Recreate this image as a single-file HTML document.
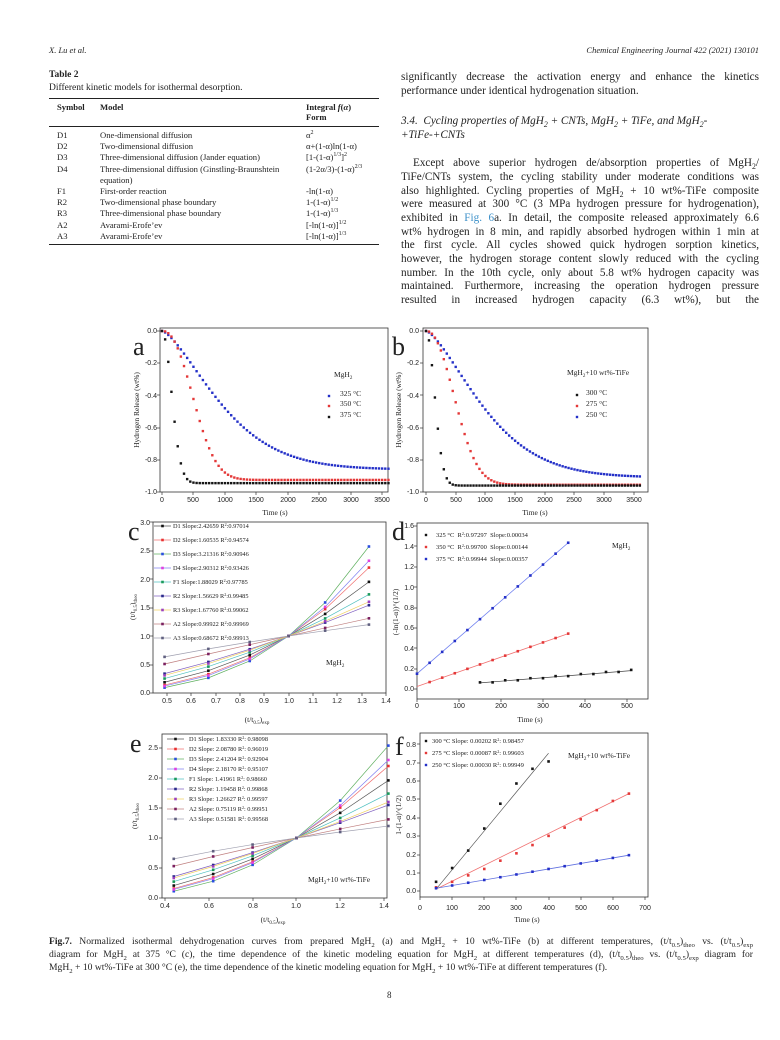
<!DOCTYPE html>
<html><head><meta charset="utf-8"><style>
body{margin:0;background:#fff;}
#p{position:relative;width:780px;height:1040px;overflow:hidden;font-family:"Liberation Serif",serif;color:#222;}
.a{position:absolute;white-space:nowrap;}
.j{position:absolute;left:401px;width:358px;font-size:11.2px;text-align:justify;text-align-last:justify;white-space:nowrap;height:14px;line-height:14px;}
.t{font-size:8.6px;}
sup,sub{font-size:70%;line-height:0;}
.cap{position:absolute;left:49px;width:704px;font-size:9.6px;text-align:justify;text-align-last:justify;white-space:nowrap;line-height:12px;}
svg text{font-family:"Liberation Sans",sans-serif;font-size:7px;fill:#222;}
svg text.s{font-family:"Liberation Serif",serif;}
</style></head><body><div id="p">
<div class="a" style="left:49px;top:45px;font-size:8.5px;font-style:italic">X. Lu et al.</div>
<div class="a" style="right:21px;top:45px;font-size:8.5px;font-style:italic">Chemical Engineering Journal 422 (2021) 130101</div>
<div class="a" style="left:49px;top:70px;font-size:9.5px;font-weight:bold">Table 2</div>
<div class="a" style="left:49px;top:83px;font-size:9.5px">Different kinetic models for isothermal desorption.</div>
<div class="a" style="left:49px;top:98px;width:330px;border-top:1px solid #222"></div>
<div class="a t" style="left:57px;top:102px;font-weight:bold">Symbol</div>
<div class="a t" style="left:100px;top:102px;font-weight:bold">Model</div>
<div class="a t" style="left:306px;top:102px;font-weight:bold">Integral <i>f</i>(<i>α</i>)</div>
<div class="a t" style="left:306px;top:112px;font-weight:bold">Form</div>
<div class="a" style="left:49px;top:126px;width:330px;border-top:1px solid #222"></div>
<div class="a t" style="left:57px;top:130px;line-height:11.2px">D1<br>D2<br>D3<br>D4<br><br>F1<br>R2<br>R3<br>A2<br>A3</div>
<div class="a t" style="left:100px;top:130px;line-height:11.2px">One-dimensional diffusion<br>Two-dimensional diffusion<br>Three-dimensional diffusion (Jander equation)<br>Three-dimensional diffusion (Ginstling-Braunshtein<br>equation)<br>First-order reaction<br>Two-dimensional phase boundary<br>Three-dimensional phase boundary<br>Avarami-Erofe’ev<br>Avarami-Erofe’ev</div>
<div class="a t" style="left:306px;top:130px;line-height:11.2px">α<sup>2</sup><br>α+(1-α)ln(1-α)<br>[1-(1-α)<sup>1/3</sup>]<sup>2</sup><br>(1-2α/3)-(1-α)<sup>2/3</sup><br><br>-ln(1-α)<br>1-(1-α)<sup>1/2</sup><br>1-(1-α)<sup>1/3</sup><br>[-ln(1-α)]<sup>1/2</sup><br>[-ln(1-α)]<sup>1/3</sup></div>
<div class="a" style="left:49px;top:244px;width:330px;border-top:1px solid #222"></div>

<div class="j" style="top:70px">significantly decrease the activation energy and enhance the kinetics</div>
<div class="j" style="top:84px;text-align-last:left">performance under identical hydrogenation situation.</div>
<div class="j" style="top:114px;font-style:italic;text-align-last:left">3.4.&nbsp; Cycling properties of MgH<sub>2</sub> + CNTs, MgH<sub>2</sub> + TiFe, and MgH<sub>2</sub>-</div>
<div class="j" style="top:128px;font-style:italic;text-align-last:left">+TiFe-+CNTs</div>
<div class="j" style="top:156px;padding-left:12px;width:346px">Except above superior hydrogen de/absorption properties of MgH<sub>2</sub>/</div>
<div class="j" style="top:170px">TiFe/CNTs system, the cycling stability under moderate conditions was</div>
<div class="j" style="top:184px">also highlighted. Cycling properties of MgH<sub>2</sub> + 10 wt%-TiFe composite</div>
<div class="j" style="top:197px">were measured at 300 °C (3 MPa hydrogen pressure for hydrogenation),</div>
<div class="j" style="top:211px">exhibited in <span style="color:#3a8fc8">Fig. 6</span>a. In detail, the composite released approximately 6.6</div>
<div class="j" style="top:225px">wt% hydrogen in 8 min, and rapidly absorbed hydrogen within 1 min at</div>
<div class="j" style="top:238px">the first cycle. All cycles showed quick hydrogen sorption kinetics,</div>
<div class="j" style="top:252px">however, the hydrogen storage content slowly reduced with the cycling</div>
<div class="j" style="top:266px">number. In the 10th cycle, only about 5.8 wt% hydrogen capacity was</div>
<div class="j" style="top:279px">maintained. Furthermore, increasing the operation hydrogen pressure</div>
<div class="j" style="top:293px">resulted in increased hydrogen capacity (6.3 wt%), but the</div>

<svg id="s" width="780" height="1040" style="position:absolute;left:0;top:0">
<g id="g"></g>
<text class="s" x="133" y="355" style="font-size:26px">a</text>
<g text-anchor="end"><text x="157" y="333">0.0</text><text x="157" y="365">-0.2</text><text x="157" y="398">-0.4</text><text x="157" y="430">-0.6</text><text x="157" y="462">-0.8</text><text x="157" y="494">-1.0</text></g>
<g text-anchor="middle"><text x="162" y="502">0</text><text x="193" y="502">500</text><text x="225" y="502">1000</text><text x="256" y="502">1500</text><text x="288" y="502">2000</text><text x="319" y="502">2500</text><text x="351" y="502">3000</text><text x="382" y="502">3500</text></g>
<text class="s" x="275" y="515" text-anchor="middle" style="font-size:7.5px">Time (s)</text>
<text class="s" transform="translate(139,410) rotate(-90)" text-anchor="middle" style="font-size:7.5px">Hydrogen Release (wt%)</text>
<text class="s" x="334" y="377" style="font-size:7.5px">MgH<tspan dy="2" style="font-size:5px">2</tspan></text>
<text class="s" x="340" y="396" style="font-size:7.5px">325 °C</text><text class="s" x="340" y="406" style="font-size:7.5px">350 °C</text><text class="s" x="340" y="417" style="font-size:7.5px">375 °C</text>
<text class="s" x="392" y="355" style="font-size:26px">b</text>
<g text-anchor="end"><text x="419" y="333">0.0</text><text x="419" y="365">-0.2</text><text x="419" y="398">-0.4</text><text x="419" y="430">-0.6</text><text x="419" y="462">-0.8</text><text x="419" y="494">-1.0</text></g>
<g text-anchor="middle"><text x="426" y="502">0</text><text x="456" y="502">500</text><text x="485" y="502">1000</text><text x="515" y="502">1500</text><text x="545" y="502">2000</text><text x="574" y="502">2500</text><text x="604" y="502">3000</text><text x="634" y="502">3500</text></g>
<text class="s" x="535" y="515" text-anchor="middle" style="font-size:7.5px">Time (s)</text>
<text class="s" transform="translate(401,410) rotate(-90)" text-anchor="middle" style="font-size:7.5px">Hydrogen Release (wt%)</text>
<text class="s" x="567" y="375" style="font-size:7.5px">MgH<tspan dy="2" style="font-size:5px">2</tspan><tspan dy="-2">+10 wt%-TiFe</tspan></text>
<text class="s" x="586" y="395" style="font-size:7.5px">300 °C</text><text class="s" x="586" y="406" style="font-size:7.5px">275 °C</text><text class="s" x="586" y="417" style="font-size:7.5px">250 °C</text>
<text class="s" x="128" y="540" style="font-size:26px">c</text>
<g text-anchor="end"><text x="150" y="525">3.0</text><text x="150" y="553">2.5</text><text x="150" y="582">2.0</text><text x="150" y="610">1.5</text><text x="150" y="639">1.0</text><text x="150" y="667">0.5</text><text x="150" y="695">0.0</text></g>
<g text-anchor="middle"><text x="167" y="703">0.5</text><text x="191" y="703">0.6</text><text x="216" y="703">0.7</text><text x="240" y="703">0.8</text><text x="264" y="703">0.9</text><text x="289" y="703">1.0</text><text x="313" y="703">1.1</text><text x="337" y="703">1.2</text><text x="362" y="703">1.3</text><text x="386" y="703">1.4</text></g>
<text class="s" x="257" y="722" text-anchor="middle" style="font-size:7.5px">(t/t<tspan dy="2" style="font-size:5px">0.5</tspan><tspan dy="-2">)</tspan><tspan dy="2" style="font-size:5px">exp</tspan></text>
<text class="s" transform="translate(135,607) rotate(-90)" text-anchor="middle" style="font-size:7.5px">(t/t<tspan dy="2" style="font-size:5px">0.5</tspan><tspan dy="-2">)</tspan><tspan dy="2" style="font-size:5px">theo</tspan></text>
<text class="s" x="326" y="665" style="font-size:7.5px">MgH<tspan dy="2" style="font-size:5px">2</tspan></text>
<text class="s" x="173" y="528" style="font-size:6.3px">D1 Slope:2.42659 R<tspan dy="-2" style="font-size:4px">2</tspan><tspan dy="2">:0.97014</tspan></text>
<text class="s" x="173" y="542" style="font-size:6.3px">D2 Slope:1.60535 R<tspan dy="-2" style="font-size:4px">2</tspan><tspan dy="2">:0.94574</tspan></text>
<text class="s" x="173" y="556" style="font-size:6.3px">D3 Slope:3.21316 R<tspan dy="-2" style="font-size:4px">2</tspan><tspan dy="2">:0.90946</tspan></text>
<text class="s" x="173" y="570" style="font-size:6.3px">D4 Slope:2.90312 R<tspan dy="-2" style="font-size:4px">2</tspan><tspan dy="2">:0.93426</tspan></text>
<text class="s" x="173" y="584" style="font-size:6.3px">F1 Slope:1.88029 R<tspan dy="-2" style="font-size:4px">2</tspan><tspan dy="2">:0.97785</tspan></text>
<text class="s" x="173" y="598" style="font-size:6.3px">R2 Slope:1.56629 R<tspan dy="-2" style="font-size:4px">2</tspan><tspan dy="2">:0.99485</tspan></text>
<text class="s" x="173" y="612" style="font-size:6.3px">R3 Slope:1.67760 R<tspan dy="-2" style="font-size:4px">2</tspan><tspan dy="2">:0.99062</tspan></text>
<text class="s" x="173" y="626" style="font-size:6.3px">A2 Slope:0.99922 R<tspan dy="-2" style="font-size:4px">2</tspan><tspan dy="2">:0.99969</tspan></text>
<text class="s" x="173" y="640" style="font-size:6.3px">A3 Slope:0.68672 R<tspan dy="-2" style="font-size:4px">2</tspan><tspan dy="2">:0.99913</tspan></text>
<text class="s" x="392" y="540" style="font-size:26px">d</text>
<g text-anchor="end"><text x="414" y="528">1.6</text><text x="414" y="549">1.4</text><text x="414" y="569">1.2</text><text x="414" y="590">1.0</text><text x="414" y="610">0.8</text><text x="414" y="630">0.6</text><text x="414" y="651">0.4</text><text x="414" y="671">0.2</text><text x="414" y="691">0.0</text></g>
<g text-anchor="middle"><text x="417" y="708">0</text><text x="459" y="708">100</text><text x="501" y="708">200</text><text x="543" y="708">300</text><text x="585" y="708">400</text><text x="627" y="708">500</text></g>
<text class="s" x="530" y="722" text-anchor="middle" style="font-size:7.5px">Time (s)</text>
<text class="s" transform="translate(398,612) rotate(-90)" text-anchor="middle" style="font-size:7.5px">(-ln(1-α))^(1/2)</text>
<text class="s" x="612" y="548" style="font-size:7.5px">MgH<tspan dy="2" style="font-size:5px">2</tspan></text>
<text class="s" x="436" y="537" style="font-size:6.5px">325 °C&#160;&#160;R<tspan dy="-2" style="font-size:4px">2</tspan><tspan dy="2">:0.97297&#160;&#160;Slope:0.00034</tspan></text>
<text class="s" x="436" y="549" style="font-size:6.5px">350 °C&#160;&#160;R<tspan dy="-2" style="font-size:4px">2</tspan><tspan dy="2">:0.99700&#160;&#160;Slope:0.00144</tspan></text>
<text class="s" x="436" y="561" style="font-size:6.5px">375 °C&#160;&#160;R<tspan dy="-2" style="font-size:4px">2</tspan><tspan dy="2">:0.99944&#160;&#160;Slope:0.00357</tspan></text>
<text class="s" x="130" y="752" style="font-size:26px">e</text>
<g text-anchor="end"><text x="158" y="750">2.5</text><text x="158" y="780">2.0</text><text x="158" y="810">1.5</text><text x="158" y="840">1.0</text><text x="158" y="870">0.5</text><text x="158" y="900">0.0</text></g>
<g text-anchor="middle"><text x="165" y="908">0.4</text><text x="209" y="908">0.6</text><text x="253" y="908">0.8</text><text x="296" y="908">1.0</text><text x="340" y="908">1.2</text><text x="384" y="908">1.4</text></g>
<text class="s" x="273" y="922" text-anchor="middle" style="font-size:7.5px">(t/t<tspan dy="2" style="font-size:5px">0.5</tspan><tspan dy="-2">)</tspan><tspan dy="2" style="font-size:5px">exp</tspan></text>
<text class="s" transform="translate(137,816) rotate(-90)" text-anchor="middle" style="font-size:7.5px">(t/t<tspan dy="2" style="font-size:5px">0.5</tspan><tspan dy="-2">)</tspan><tspan dy="2" style="font-size:5px">theo</tspan></text>
<text class="s" x="308" y="882" style="font-size:7.5px">MgH<tspan dy="2" style="font-size:5px">2</tspan><tspan dy="-2">+10 wt%-TiFe</tspan></text>
<text class="s" x="189" y="741" style="font-size:6.3px">D1&#160;Slope: 1.83330&#160;R<tspan dy="-2" style="font-size:4px">2</tspan><tspan dy="2">:&#160;0.98098</tspan></text>
<text class="s" x="189" y="751" style="font-size:6.3px">D2&#160;Slope: 2.08780&#160;R<tspan dy="-2" style="font-size:4px">2</tspan><tspan dy="2">:&#160;0.96019</tspan></text>
<text class="s" x="189" y="761" style="font-size:6.3px">D3&#160;Slope: 2.41204&#160;R<tspan dy="-2" style="font-size:4px">2</tspan><tspan dy="2">:&#160;0.92904</tspan></text>
<text class="s" x="189" y="771" style="font-size:6.3px">D4&#160;Slope: 2.18170&#160;R<tspan dy="-2" style="font-size:4px">2</tspan><tspan dy="2">:&#160;0.95107</tspan></text>
<text class="s" x="189" y="781" style="font-size:6.3px">F1&#160;Slope: 1.41961&#160;R<tspan dy="-2" style="font-size:4px">2</tspan><tspan dy="2">:&#160;0.98660</tspan></text>
<text class="s" x="189" y="791" style="font-size:6.3px">R2&#160;Slope: 1.19458&#160;R<tspan dy="-2" style="font-size:4px">2</tspan><tspan dy="2">:&#160;0.99868</tspan></text>
<text class="s" x="189" y="801" style="font-size:6.3px">R3&#160;Slope: 1.26627&#160;R<tspan dy="-2" style="font-size:4px">2</tspan><tspan dy="2">:&#160;0.99597</tspan></text>
<text class="s" x="189" y="811" style="font-size:6.3px">A2&#160;Slope: 0.75119&#160;R<tspan dy="-2" style="font-size:4px">2</tspan><tspan dy="2">:&#160;0.99951</tspan></text>
<text class="s" x="189" y="821" style="font-size:6.3px">A3&#160;Slope: 0.51581&#160;R<tspan dy="-2" style="font-size:4px">2</tspan><tspan dy="2">:&#160;0.99568</tspan></text>
<text class="s" x="395" y="755" style="font-size:26px">f</text>
<g text-anchor="end"><text x="416" y="747">0.8</text><text x="416" y="765">0.7</text><text x="416" y="783">0.6</text><text x="416" y="801">0.5</text><text x="416" y="820">0.4</text><text x="416" y="838">0.3</text><text x="416" y="857">0.2</text><text x="416" y="875">0.1</text><text x="416" y="893">0.0</text></g>
<g text-anchor="middle"><text x="420" y="910">0</text><text x="452" y="910">100</text><text x="484" y="910">200</text><text x="516" y="910">300</text><text x="549" y="910">400</text><text x="581" y="910">500</text><text x="613" y="910">600</text><text x="645" y="910">700</text></g>
<text class="s" x="527" y="922" text-anchor="middle" style="font-size:7.5px">Time (s)</text>
<text class="s" transform="translate(401,815) rotate(-90)" text-anchor="middle" style="font-size:7.5px">1-(1-α)^(1/2)</text>
<text class="s" x="568" y="758" style="font-size:7.5px">MgH<tspan dy="2" style="font-size:5px">2</tspan><tspan dy="-2">+10 wt%-TiFe</tspan></text>
<text class="s" x="432" y="743" style="font-size:6.5px">300 °C Slope: 0.00202 R<tspan dy="-2" style="font-size:4px">2</tspan><tspan dy="2">: 0.98457</tspan></text>
<text class="s" x="432" y="755" style="font-size:6.5px">275 °C Slope: 0.00087 R<tspan dy="-2" style="font-size:4px">2</tspan><tspan dy="2">: 0.99603</tspan></text>
<text class="s" x="432" y="767" style="font-size:6.5px">250 °C Slope: 0.00030 R<tspan dy="-2" style="font-size:4px">2</tspan><tspan dy="2">: 0.99949</tspan></text>
</svg>

<div class="cap" style="top:936px"><b>Fig.7.</b> Normalized isothermal dehydrogenation curves from prepared MgH<sub>2</sub> (a) and MgH<sub>2</sub> + 10 wt%-TiFe (b) at different temperatures, (t/t<sub>0.5</sub>)<sub>theo</sub> vs. (t/t<sub>0.5</sub>)<sub>exp</sub></div>
<div class="cap" style="top:949px">diagram for MgH<sub>2</sub> at 375 °C (c), the time dependence of the kinetic modeling equation for MgH<sub>2</sub> at different temperatures (d), (t/t<sub>0.5</sub>)<sub>theo</sub> vs. (t/t<sub>0.5</sub>)<sub>exp</sub> diagram for</div>
<div class="cap" style="top:962px;text-align-last:left">MgH<sub>2</sub> + 10 wt%-TiFe at 300 °C (e), the time dependence of the kinetic modeling equation for MgH<sub>2</sub> + 10 wt%-TiFe at different temperatures (f).</div>
<div class="a" style="left:387px;top:990px;font-size:9px">8</div>
</div>
<script>
var g=document.getElementById('g'),NS='http://www.w3.org/2000/svg';
function el(t,a){var e=document.createElementNS(NS,t);for(var k in a)e.setAttribute(k,a[k]);g.appendChild(e);return e;}
function frame(L,R,T,B,xs,ys){el('rect',{x:L,y:T,width:R-L,height:B-T,fill:'none',stroke:'#333','stroke-width':0.8});
 xs.forEach(function(x){el('line',{x1:x,x2:x,y1:B,y2:B+3,stroke:'#333','stroke-width':0.7});});
 ys.forEach(function(y){el('line',{x1:L,x2:L-3,y1:y,y2:y,stroke:'#333','stroke-width':0.7});});}
function dot(x,y,c,s){s=s||2.4;el('rect',{x:x-s/2,y:y-s/2,width:s,height:s,fill:c});}
function line(pts,c,w){el('polyline',{points:pts.map(function(p){return p.join(',')}).join(' '),fill:'none',stroke:c,'stroke-width':w||0.7});}
var B='#2430c8',R='#e43838',K='#151515';
frame(160,388,328,492,[162,193,225,256,288,319,351,382],[331,363,395,428,460,492]);
function pa(x0,sc,amp,tau,p,c,step){for(var t=0;t<=3600;t+=step){var v=amp*(1-Math.exp(-Math.pow(t/tau,p)));dot(x0+t*sc,331+v*161,c);}}
pa(162,0.0629,0.86,1150,1.45,B,50);pa(162,0.0629,0.925,620,2.3,R,50);pa(162,0.0629,0.945,210,2.0,K,50);
dot(329,396,B);dot(329,406,R);dot(329,417,K);
frame(423,648,328,492,[426,456,485,515,545,574,604,634],[331,363,395,428,460,492]);
pa(426,0.0594,0.91,1200,1.45,B,50);pa(426,0.0594,0.955,620,2.2,R,50);pa(426,0.0594,0.96,200,2.0,K,50);
dot(577,395,K);dot(577,406,R);dot(577,417,B);
var cols=['#111','#e83030','#2a4ee0','#e040e0','#1a9a5a','#2a2a8a','#9a40c0','#7a2060','#606080'];
var lcol=['#555','#f07070','#60b060','#8080f0','#50c0c0','#8060c0','#f0d060','#c08080','#a0a0b0'];
function pc(X0,xmin,SX,Y0,SY,xs,ends,ly,lx,lsp){
 for(var i=0;i<9;i++){var p=Math.log(ends[i])/Math.log(xs[5]);
  var pts=xs.map(function(x){return [X0+(x-xmin)*SX,Y0-Math.pow(x,p)*SY];});
  line(pts,lcol[i],0.7);pts.forEach(function(q){dot(q[0],q[1],cols[i],2.6);});
  line([[lx,ly+i*lsp-2],[lx+17,ly+i*lsp-2]],lcol[i],0.7);dot(lx+8.5,ly+i*lsp-2,cols[i],2.6);}
}
frame(153,386,522,693,[167,191,216,240,264,289,313,337,362,386],[522,551,579,608,636,665,693]);
pc(167,0.5,243.3,693,57,[0.49,0.67,0.84,1.0,1.15,1.33],[1.95,2.2,2.57,2.32,1.73,1.54,1.6,1.31,1.2],528,154,14);
frame(162,387,734,898,[165,209,253,296,340,384],[748,778,808,838,868,898]);
pc(165,0.4,219,898,60,[0.44,0.62,0.8,1.0,1.2,1.42],[1.96,2.2,2.54,2.3,1.74,1.55,1.6,1.31,1.2],741,167,10);
frame(417,648,523,699,[417,459,501,543,585,627],[526,546,567,587,608,628,648,669,689]);
function md(t){return 417+t*0.42;} function vd(v){return 689-v*101.9;}
line([[md(0),vd(0.15)],[md(360),vd(0.15+0.00357*360)]],'#7080f0',0.8);
line([[md(0),vd(0.025)],[md(360),vd(0.025+0.00144*360)]],'#f07070',0.8);
line([[md(150),vd(0.06)],[md(510),vd(0.18)]],'#444',0.7);
for(var t=0;t<=360;t+=30)dot(md(t),vd(0.15+0.00357*t),B,2.6);
for(t=30;t<=360;t+=30)dot(md(t),vd(0.025+0.00144*t),R,2.6);
for(t=150;t<=510;t+=30)dot(md(t),vd(0.06+0.00034*(t-150)+(t%60?0.005:-0.005)),K,2.6);
dot(426,535,K);dot(426,547,R);dot(426,559,B);
frame(420,648,733,897,[420,452,484,516,549,581,613,645],[744,763,781,799,818,836,855,873,891]);
function mf(t){return 420+t*0.3214;} function vf(v){return 891-v*183.75;}
line([[mf(50),vf(0.01)],[mf(400),vf(0.75)]],'#555',0.7);
line([[mf(50),vf(0.01)],[mf(650),vf(0.53)]],'#f07070',0.8);
line([[mf(50),vf(0.015)],[mf(650),vf(0.195)]],'#6070e0',0.8);
[0.05,0.125,0.22,0.34,0.475,0.585,0.665,0.705].forEach(function(v,i){dot(mf(50+50*i),vf(v),K,2.6);});
[0.02,0.05,0.085,0.12,0.165,0.205,0.25,0.3,0.345,0.39,0.44,0.49,0.53].forEach(function(v,i){dot(mf(50+50*i),vf(v),R,2.6);});
for(t=50;t<=650;t+=50)dot(mf(t),vf(0.015+0.0003*(t-50)),B,2.6);
dot(426,741,K);dot(426,753,R);dot(426,765,B);
</script>
</body></html>
